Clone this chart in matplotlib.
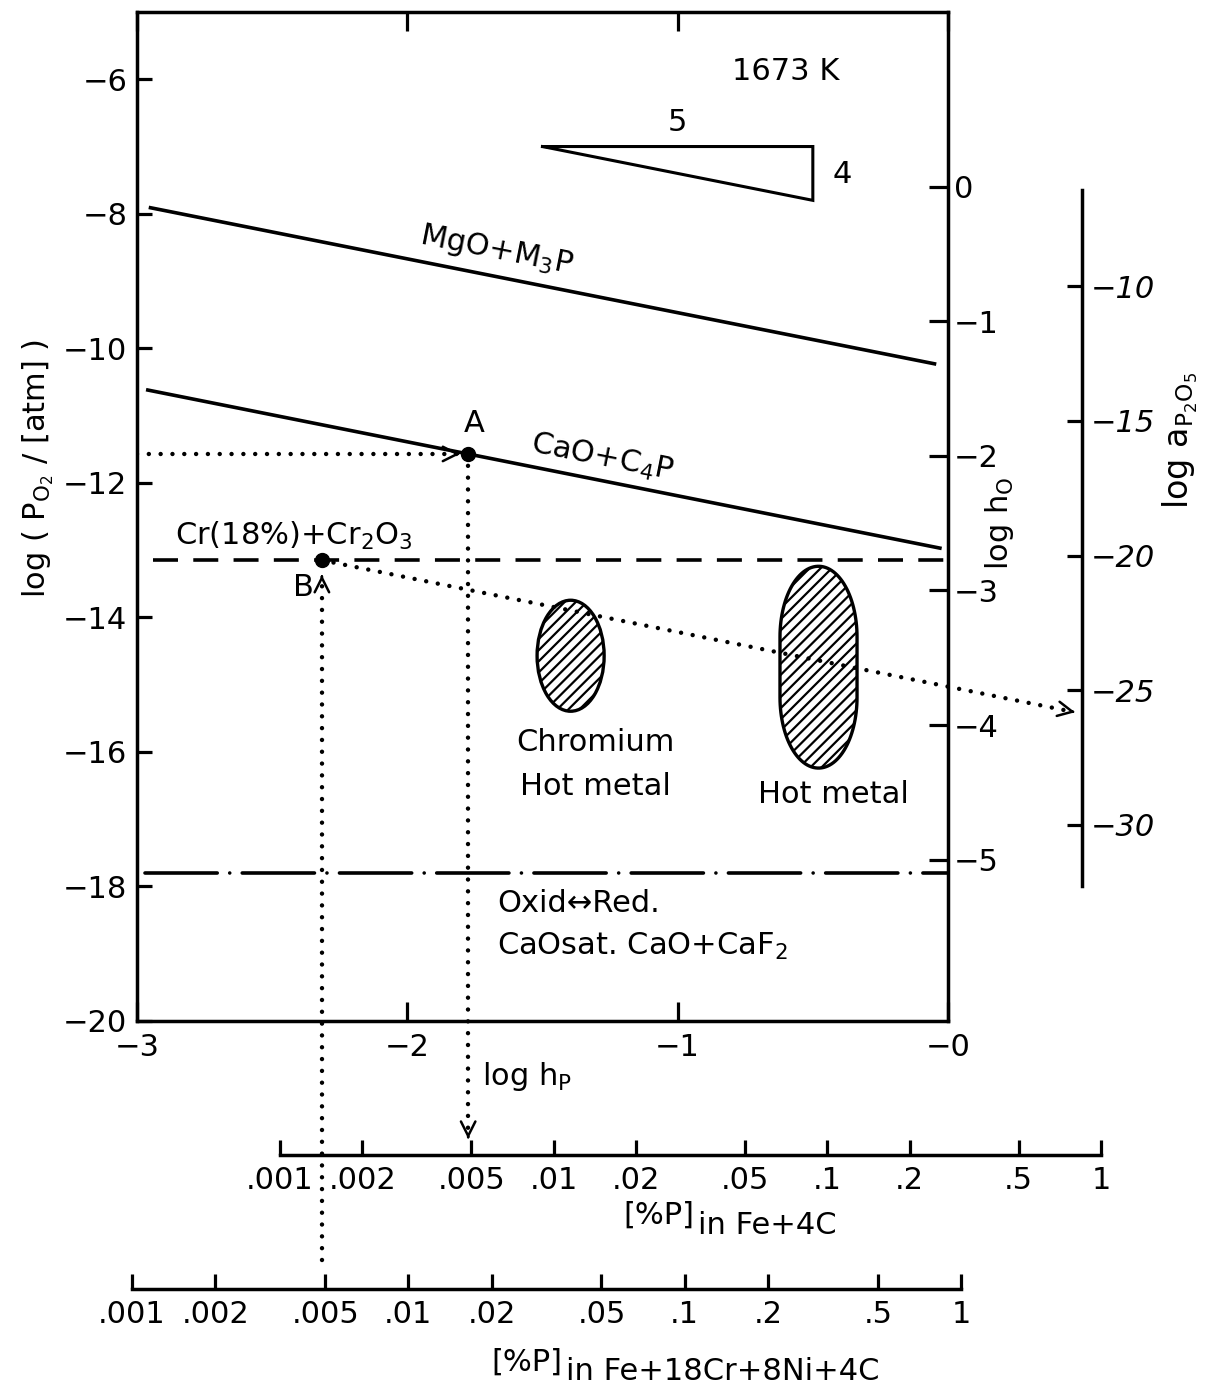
import numpy as np
import matplotlib
matplotlib.use("Agg")
import matplotlib.pyplot as plt
from matplotlib.patches import Ellipse, Polygon
from matplotlib.ticker import NullLocator

plt.rcParams['font.family'] = ['DejaVu Sans']
plt.rcParams['mathtext.default'] = 'regular'
plt.rcParams['lines.scale_dashes'] = False
plt.rcParams['hatch.linewidth'] = 1.6

# ---------------- data ----------------
x_ticks = [-3, -2, -1, 0]
x_ticklabels = ["\u22123", "\u22122", "\u22121", "\u22120"]
y_ticks = [-6, -8, -10, -12, -14, -16, -18, -20]
y_ticklabels = ["\u22126", "\u22128", "\u221210", "\u221212", "\u221214", "\u221216", "\u221218", "\u221220"]
hO_ticks = [0, -1, -2, -3, -4, -5]
hO_labels = ["0", "\u22121", "\u22122", "\u22123", "\u22124", "\u22125"]
aP_ticks = [-10, -15, -20, -25, -30]
aP_labels = ["\u221210", "\u221215", "\u221220", "\u221225", "\u221230"]

mgo_x = [-2.95, -0.05]
mgo_y = [-7.91, -10.23]
cao_x = [-2.96, -0.03]
cao_y = [-10.62, -12.97]
cr_x = [-2.94, 0.0]
cr_y = [-13.15, -13.15]
redox_x = [-2.97, 0.0]
redox_y = [-17.80, -17.80]
point_A = (-1.775, -11.57)
point_B = (-2.316, -13.15)
aP_target = (0.47, -15.41)
tri_x = [-1.5, -0.5, -0.5, -1.5]
tri_y = [-7.0, -7.0, -7.8, -7.0]

chrom_center = (-1.396, -14.57)
chrom_size = (0.248, 1.65)
hot_center = (-0.479, -14.74)
hot_size = (0.285, 3.00)

pct_ticks = [0.001, 0.002, 0.005, 0.01, 0.02, 0.05, 0.1, 0.2, 0.5, 1]
pct_labels = [".001", ".002", ".005", ".01", ".02", ".05", ".1", ".2", ".5", "1"]

# ---------------- layout ----------------
W, H = 1209, 1395
fig = plt.figure(figsize=(W / 100, H / 100), dpi=100)
fig.patch.set_facecolor('white')

def fr(left, top, right, bottom):
    return [left / W, 1 - bottom / H, (right - left) / W, (bottom - top) / H]

LW = 2.3
FS = 22

ax = fig.add_axes(fr(137, 12, 948, 1021))
ax.set_xlim(-3, 0)
ax.set_ylim(-20, -5)
for s in ['left', 'top', 'bottom']:
    ax.spines[s].set_linewidth(2.5)
ax.spines['right'].set_visible(False)
ax.set_xticks(x_ticks)
ax.set_xticklabels(x_ticklabels)
ax.set_yticks(y_ticks)
ax.set_yticklabels(y_ticklabels)
ax.tick_params(axis='x', direction='in', length=14, width=LW, top=True,
               labelsize=FS, pad=9)
ax.tick_params(axis='y', direction='in', length=11, width=LW, right=False,
               labelsize=FS, pad=7)

dotted = dict(color='black', lw=3.2, linestyle=(0, (0.01, 8.5)),
              dash_capstyle='round', solid_capstyle='round')

# main lines
ax.plot(mgo_x, mgo_y, color='black', lw=2.6)
ax.plot(cao_x, cao_y, color='black', lw=2.6)
ax.plot(cr_x, cr_y, color='black', lw=2.6, linestyle=(0, (18, 11)))
ax.plot(redox_x, redox_y, color='black', lw=2.6,
        linestyle=(0, (52, 9, 0.01, 9)), dash_capstyle='round')
ax.plot(tri_x, tri_y, color='black', lw=2.2, solid_joinstyle='miter')

# dotted construction lines
ax.plot([-3, point_A[0] - 0.03], [point_A[1], point_A[1]], **dotted)
ax.plot([point_A[0], point_A[0]], [point_A[1], -21.72], clip_on=False, **dotted)
ax.plot([point_B[0], point_B[0]], [-23.55, point_B[1] - 0.25], clip_on=False, **dotted)
ax.plot([point_B[0], aP_target[0] - 0.03], [point_B[1], aP_target[1] + 0.024],
        clip_on=False, **dotted)

def head(tip, dx, dy):
    ax.annotate("", xy=tip, xytext=(tip[0] - dx, tip[1] - dy),
                arrowprops=dict(arrowstyle="->", lw=1.8, mutation_scale=26,
                                shrinkA=0, shrinkB=0, color='black'),
                annotation_clip=False)

head((point_A[0] - 0.03, point_A[1]), 0.01, 0.0)
head((point_A[0], -21.75), 0.0, -0.03)
head((point_B[0], point_B[1] - 0.22), 0.0, 0.03)
head(aP_target, 0.01, -0.0081)

ax.plot([point_A[0], point_B[0]], [point_A[1], point_B[1]], 'o', color='black',
        markersize=10)

# hatched regions
ax.add_patch(Ellipse(chrom_center, chrom_size[0], chrom_size[1], fill=False,
                     hatch='///', lw=2.4, edgecolor='black'))
cap = 1.05
t1 = np.linspace(0, np.pi, 60)
t2 = np.linspace(np.pi, 2 * np.pi, 60)
hx = np.concatenate([hot_center[0] + hot_size[0] / 2 * np.cos(t1),
                     hot_center[0] + hot_size[0] / 2 * np.cos(t2)])
hy = np.concatenate([hot_center[1] + (hot_size[1] / 2 - cap) + cap * np.sin(t1),
                     hot_center[1] - (hot_size[1] / 2 - cap) + cap * np.sin(t2)])
ax.add_patch(Polygon(np.column_stack([hx, hy]), closed=True, fill=False,
                     hatch='///', lw=2.4, edgecolor='black'))

# texts in the plot
ax.text(-0.60, -5.89, "1673 K", fontsize=FS, ha='center', va='center')
ax.text(-1.0, -6.64, "5", fontsize=FS, ha='center', va='center')
ax.text(-0.39, -7.42, "4", fontsize=FS, ha='center', va='center')
ax.text(-1.67, -8.54, "MgO+M$_3$P", fontsize=FS, ha='center', va='center',
        rotation=-11.2, rotation_mode='anchor')
ax.text(-1.28, -11.63, "CaO+C$_4$P", fontsize=FS, ha='center', va='center',
        rotation=-11.2, rotation_mode='anchor')
ax.text(-1.753, -11.12, "A", fontsize=FS, ha='center', va='center')
ax.text(-2.385, -13.55, "B", fontsize=FS, ha='center', va='center')
ax.text(-2.86, -12.92, "Cr(18%)+Cr$_2$O$_3$", fontsize=FS, ha='left', va='baseline')
ax.text(-1.306, -15.86, "Chromium", fontsize=FS, ha='center', va='center')
ax.text(-1.306, -16.52, "Hot metal", fontsize=FS, ha='center', va='center')
ax.text(-0.425, -16.64, "Hot metal", fontsize=FS, ha='center', va='center')
ax.text(-1.668, -18.25, "Oxid\u2194Red.", fontsize=FS, ha='left', va='center')
ax.text(-1.668, -19.02, "CaOsat. CaO+CaF$_2$", fontsize=FS, ha='left', va='baseline')
ax.text(-1.724, -20.83, "log h$_P$", fontsize=FS, ha='left', va='center')

# right axis: log hO
sec = ax.secondary_yaxis('right', functions=(lambda p: (p + 7.6) / 2,
                                              lambda h: 2 * h - 7.6))
sec.set_yticks(hO_ticks)
sec.set_yticklabels(hO_labels)
sec.tick_params(direction='in', length=14, width=LW, labelsize=FS, pad=4)
sec.spines['right'].set_linewidth(2.5)

# far right axis: log aP2O5
sec2 = ax.secondary_yaxis((1082 - 137) / (948 - 137),
                          functions=(lambda p: 2.5 * p + 12.7,
                                     lambda a: (a - 12.7) / 2.5))
sec2.set_yticks(aP_ticks)
sec2.set_yticklabels(aP_labels)
sec2.tick_params(direction='in', length=11, width=LW, labelsize=FS, pad=6)
for lab in sec2.get_yticklabels():
    lab.set_style('italic')
sec2.spines['right'].set_linewidth(2.5)
sec2.spines['right'].set_bounds(-32.3, -6.4)

# axis titles
fig.text(38 / W, 1 - 468 / H, "log ( P$_{O_2}$ / [atm] )", rotation=90,
         fontsize=FS, ha='center', va='center')
fig.text(1000 / W, 1 - 523 / H, "log h$_O$", rotation=90,
         fontsize=FS, ha='center', va='center')
fig.text(1180 / W, 1 - 440 / H, "log a$_{P_2O_5}$", rotation=90,
         fontsize=FS + 2, ha='center', va='center')

# bottom % scales
def pct_axis(left, right, y):
    b = fig.add_axes(fr(left, y - 20, right, y))
    b.patch.set_visible(False)
    b.set_xscale('log')
    b.set_xlim(1e-3, 1)
    b.set_ylim(0, 1)
    for s in ['left', 'right', 'top']:
        b.spines[s].set_visible(False)
    b.spines['bottom'].set_linewidth(2.5)
    b.set_yticks([])
    b.set_xticks(pct_ticks)
    b.set_xticklabels(pct_labels)
    b.xaxis.set_minor_locator(NullLocator())
    b.tick_params(axis='x', direction='in', length=11, width=LW,
                  labelsize=FS, pad=8)
    return b

pct_axis(280, 1101, 1155)
pct_axis(132, 961, 1289)

fig.text(694 / W, 1 - 1215 / H, "[%P]", fontsize=FS, ha='right', va='center')
fig.text(698 / W, 1 - 1226 / H, "in Fe+4C", fontsize=FS, ha='left', va='center')
fig.text(562 / W, 1 - 1362 / H, "[%P]", fontsize=FS, ha='right', va='center')
fig.text(566 / W, 1 - 1371 / H, "in Fe+18Cr+8Ni+4C", fontsize=FS, ha='left', va='center')

fig.savefig("out.png", dpi=100, facecolor='white')
